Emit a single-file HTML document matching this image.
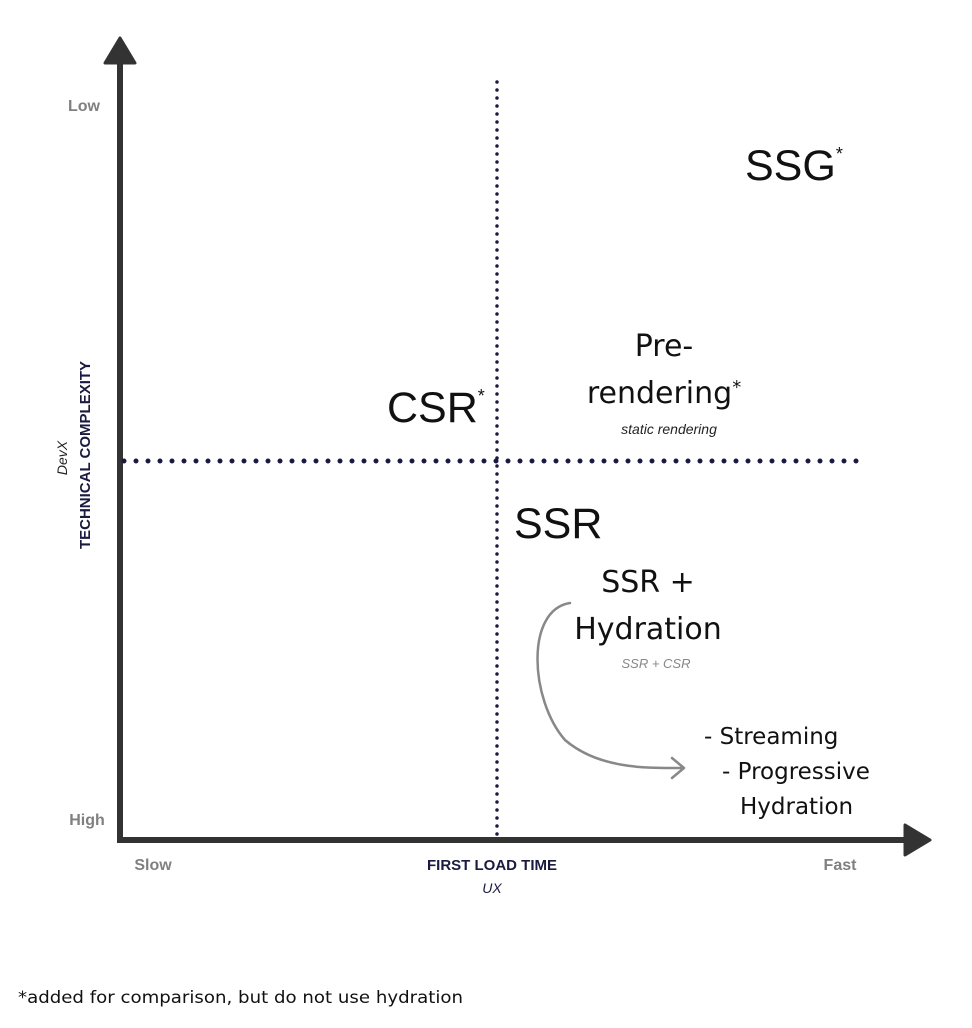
<!DOCTYPE html>
<html><head><meta charset="utf-8"><style>
body{margin:0;background:#fff;}
svg{display:block;font-family:"Liberation Sans",sans-serif;}
.dv{font-family:"DejaVu Sans","Liberation Sans",sans-serif;}
</style></head><body>
<svg width="972" height="1028" viewBox="0 0 972 1028">
<rect width="972" height="1028" fill="#fff"/>
<g>
<line x1="120" y1="840" x2="120" y2="58" stroke="#333" stroke-width="6"/>
<path d="M120 38 L135 63 L105 63 Z" fill="#333" stroke="#333" stroke-width="3" stroke-linejoin="round"/>
</g>
<g>
<line x1="117" y1="840" x2="910" y2="840" stroke="#333" stroke-width="6"/>
<path d="M930 840 L905 825 L905 855 Z" fill="#333" stroke="#333" stroke-width="3" stroke-linejoin="round"/>
</g>
<line x1="497" y1="82" x2="497" y2="836" stroke="#1a1a40" stroke-width="3.5" stroke-dasharray="0 8" stroke-linecap="round"/>
<line x1="124" y1="461" x2="868" y2="461" stroke="#1a1a40" stroke-width="5" stroke-dasharray="0 12" stroke-linecap="round"/>
<text x="84" y="111" font-size="16" font-weight="bold" fill="#808080" text-anchor="middle">Low</text>
<text x="87" y="825" font-size="16" font-weight="bold" fill="#808080" text-anchor="middle">High</text>
<text x="153" y="870" font-size="16" font-weight="bold" fill="#808080" text-anchor="middle">Slow</text>
<text x="840" y="870" font-size="16" font-weight="bold" fill="#808080" text-anchor="middle">Fast</text>
<text x="492" y="870" font-size="15" font-weight="bold" fill="#1a1a40" text-anchor="middle">FIRST LOAD TIME</text>
<text x="492" y="893" font-size="14" font-style="italic" fill="#1a1a40" text-anchor="middle">UX</text>
<text transform="translate(90,455) rotate(-90)" font-size="15" font-weight="bold" fill="#1a1a40" text-anchor="middle">TECHNICAL COMPLEXITY</text>
<text transform="translate(67,458) rotate(-90)" font-size="14" font-style="italic" fill="#222" text-anchor="middle">DevX</text>
<text x="745" y="180" font-size="43" fill="#111">SSG<tspan font-size="18" dy="-20">*</tspan></text>
<text x="387" y="422" font-size="43" fill="#111">CSR<tspan font-size="18" dy="-20">*</tspan></text>
<text class="dv" font-size="30" fill="#111" text-anchor="middle"><tspan x="664" y="356">Pre-</tspan><tspan x="664" y="403">rendering<tspan font-size="18" dy="-10">*</tspan></tspan></text>
<text x="669" y="434" font-size="14" font-style="italic" fill="#222" text-anchor="middle">static rendering</text>
<text x="514" y="538" font-size="43" fill="#111">SSR</text>
<text class="dv" font-size="30" fill="#111" text-anchor="middle"><tspan x="648" y="592">SSR +</tspan><tspan x="648" y="639">Hydration</tspan></text>
<text x="656" y="668" font-size="13" font-style="italic" fill="#888" text-anchor="middle">SSR + CSR</text>
<path d="M570 603 C525 610 530 700 565 740 C600 770 650 768 682 768 M672 758 L684 768 L672 778" fill="none" stroke="#888" stroke-width="2.5" stroke-linecap="round" stroke-linejoin="round"/>
<text class="dv" x="704" y="744" font-size="23" fill="#111">- Streaming</text>
<text class="dv" x="722" y="779" font-size="23" fill="#111">- Progressive</text>
<text class="dv" x="740" y="814" font-size="23" fill="#111">Hydration</text>
<text class="dv" x="18" y="1003" font-size="17" fill="#111" textLength="445" lengthAdjust="spacingAndGlyphs">*added for comparison, but do not use hydration</text>
</svg>
</body></html>
